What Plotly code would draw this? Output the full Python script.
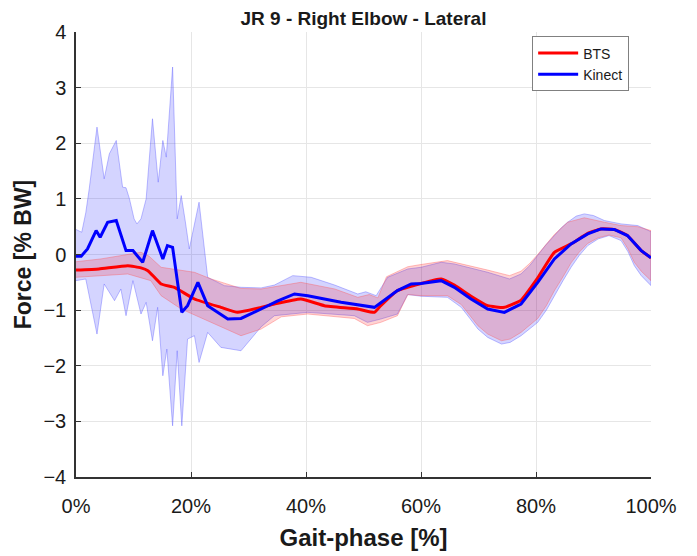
import plotly.graph_objects as go

# ---- data (gait phase %, force % BW) ----
kinect_up_x = [0, 1, 1.7, 2.3, 3.65, 4.9, 5.8, 7, 8.1, 8.7, 9.3, 10.1, 10.6, 11.3, 12.2, 13.3, 14.3, 15.1, 15.7, 16.8,
               17.6, 18.3, 19.0, 19.7, 21.4, 22.9, 25.8, 28.7, 32.2, 34.5, 37.7, 40.9, 45, 49, 50.4, 52.2, 54.2, 57.7,
               60, 63.5, 65.8, 68.5, 71.6, 75.4, 77.4, 78.9, 80.3, 81.7, 83.2, 84.4, 85.5, 87, 88.4, 90, 91.9, 93.5,
               94.8, 97.7, 100]
kinect_up_y = [0.45, 0.40, 0.75, 1.18, 2.29, 1.36, 1.81, 2.05, 1.21, 1.2, 1.0, 0.64, 0.55, 0.64, 1.0, 2.44, 1.3, 2.05, 1.75, 3.37,
               0.64, 1.06, 0.6, 0.1, 0.94, -0.41, -0.56, -0.59, -0.6, -0.55, -0.38, -0.41, -0.55, -0.71, -0.67, -0.74, -0.41, -0.26,
               -0.23, -0.14, -0.17, -0.24, -0.32, -0.44, -0.35, -0.2, -0.02, 0.17, 0.34, 0.48, 0.58, 0.69, 0.73, 0.7, 0.61, 0.58,
               0.55, 0.52, 0.41]

kinect_lo_x = [0, 1.7, 3.65, 4.9, 6.7, 7.8, 8.7, 9.9, 11.3, 12.2, 13.3, 14.2, 15.1, 15.8, 16.8, 17.6, 18.4, 19.4, 20.6,
               21.4, 22.9, 25.2, 28.7, 32.2, 34.5, 40.3, 48.4, 50.7, 53, 55.9, 57.7, 60, 64.6, 67, 68.5, 69.9, 71.6, 74,
               75.5, 77.4, 80.3, 81.8, 83.2, 84.7, 86.1, 87.5, 89, 90.8, 92.7, 94.8, 96, 97.1, 98.3, 100]
kinect_lo_y = [-0.47, -0.44, -1.43, -0.53, -0.83, -0.62, -1.1, -0.47, -1.07, -0.86, -1.55, -0.95, -2.18, -1.7, -3.08, -1.73, -3.08, -1.52, -1.46,
               -1.94, -1.4, -1.67, -1.73, -1.3, -1.1, -1.04, -1.1, -1.22, -1.16, -1.07, -0.72, -0.75, -0.77, -0.95, -1.15, -1.34, -1.49, -1.61,
               -1.58, -1.46, -1.22, -1.0, -0.74, -0.47, -0.23, -0.02, 0.16, 0.28, 0.34, 0.25, 0.05, -0.2, -0.38, -0.56]

kinect_x = [0, 0.9, 2, 3.5, 4.2, 5.5, 7, 8.7, 9.9, 11.6, 13.3, 15.1, 15.9, 16.8, 18.4, 19.4, 21.2, 22.9, 26.4, 28.7, 32.2,
            35, 38, 40.3, 46.1, 51.9, 53.9, 55.9, 58.3, 60, 63.5, 65.8, 68.7, 71.6, 74.5, 77.4, 80.3, 83.2, 86.1, 89, 91.3,
            93.6, 95.9, 98.3, 100]
kinect_y = [-0.03, -0.03, 0.1, 0.43, 0.31, 0.58, 0.61, 0.07, 0.07, -0.14, 0.43, -0.08, 0.16, 0.13, -1.04, -0.92, -0.5, -0.92, -1.16, -1.15, -0.98,
            -0.84, -0.71, -0.74, -0.86, -0.95, -0.8, -0.65, -0.53, -0.52, -0.47, -0.59, -0.8, -0.98, -1.04, -0.89, -0.5, -0.08, 0.19, 0.37, 0.46,
            0.45, 0.34, 0.07, -0.06]

bts_x = [0, 4, 9, 11.3, 12.5, 14.8, 17.1, 20.6, 25.2, 28.1, 32.2, 34.5, 39.1, 43.2, 49, 51.9, 53, 55.9, 60, 63.5, 65.8,
         68.7, 71.6, 74.5, 77.4, 80.3, 83.2, 86.1, 89, 91.3, 93.6, 95.9, 98.3, 100]
bts_y = [-0.28, -0.26, -0.2, -0.24, -0.29, -0.53, -0.59, -0.8, -0.95, -1.04, -0.95, -0.89, -0.8, -0.92, -0.98, -1.04, -0.92, -0.65, -0.52, -0.44, -0.55,
         -0.75, -0.92, -0.95, -0.82, -0.42, 0.04, 0.19, 0.38, 0.46, 0.45, 0.34, 0.07, -0.06]

bts_up_x = [0, 4.3, 11.3, 12.7, 14.8, 20.6, 23.5, 28.7, 32.2, 36, 39.1, 45, 49, 51, 52.5, 54, 57.7, 60, 64.6, 71.6, 75.4,
            77.4, 78.9, 80.3, 81.7, 83.2, 85.5, 88.4, 91.9, 94.8, 97.7, 100]
bts_up_y = [-0.13, -0.08, 0.04, -0.03, -0.23, -0.32, -0.44, -0.61, -0.62, -0.55, -0.5, -0.62, -0.77, -0.72, -0.78, -0.4, -0.22, -0.18, -0.11, -0.28, -0.38,
            -0.3, -0.16, 0.0, 0.18, 0.36, 0.58, 0.66, 0.58, 0.52, 0.5, 0.43]

bts_lo_x = [0, 9, 13, 14.8, 18.3, 23.5, 28.7, 32.2, 35.7, 40.3, 48.4, 50.7, 53, 55.9, 57.7, 60, 64.6, 67, 68.5, 69.9, 71.6, 74,
            75.5, 77.4, 80.3, 81.8, 83.2, 84.7, 86.1, 87.5, 89, 90.8, 92.7, 94.8, 96, 97.1, 98.3, 100]
bts_lo_y = [-0.41, -0.35, -0.47, -0.74, -0.98, -1.22, -1.46, -1.34, -1.12, -1.07, -1.15, -1.28, -1.22, -1.1, -0.72, -0.74, -0.74, -0.9, -1.1, -1.28, -1.43, -1.55,
            -1.52, -1.4, -1.15, -0.92, -0.65, -0.4, -0.15, 0.04, 0.2, 0.3, 0.35, 0.3, 0.1, -0.14, -0.3, -0.47]

x_ticks = [0, 20, 40, 60, 80, 100]
x_labels = ["0%", "20%", "40%", "60%", "80%", "100%"]
y_ticks = [-4, -3, -2, -1, 0, 1, 2, 3, 4]

FONT = "Liberation Sans, Arial, sans-serif"
TXT = "#1a1a1a"

fig = go.Figure()

# Kinect band
fig.add_trace(go.Scatter(
    x=kinect_up_x + kinect_lo_x[::-1], y=kinect_up_y + kinect_lo_y[::-1],
    fill="toself", fillcolor="rgba(0,0,255,0.17)", mode="lines",
    line=dict(color="rgba(90,90,255,0.4)", width=1), showlegend=False, hoverinfo="skip"))
# BTS band
fig.add_trace(go.Scatter(
    x=bts_up_x + bts_lo_x[::-1], y=bts_up_y + bts_lo_y[::-1],
    fill="toself", fillcolor="rgba(255,0,0,0.17)", mode="lines",
    line=dict(color="rgba(255,90,90,0.4)", width=1), showlegend=False, hoverinfo="skip"))

fig.add_trace(go.Scatter(x=bts_x, y=bts_y, mode="lines", name="BTS",
                         line=dict(color="#ff0000", width=3, shape="spline", smoothing=0.4)))
fig.add_trace(go.Scatter(x=kinect_x, y=kinect_y, mode="lines", name="Kinect",
                         line=dict(color="#0000ff", width=3)))

fig.update_layout(
    width=697, height=556,
    margin=dict(l=68, r=54, t=24, b=87),
    paper_bgcolor="white", plot_bgcolor="white",
    font=dict(family=FONT, color=TXT),
    title=dict(text="<b>JR 9 - Right Elbow - Lateral</b>", x=0.5, xref="paper", xanchor="center",
               y=0.981, yref="container", yanchor="middle", font=dict(size=19, family=FONT, color=TXT)),
    legend=dict(x=0.962, y=0.99, xanchor="right", yanchor="top",
                bordercolor="#808080", borderwidth=1, bgcolor="white",
                font=dict(size=14, family=FONT, color=TXT),
                tracegroupgap=0, itemwidth=40),
    xaxis=dict(range=[0, 100], tickvals=x_ticks, ticktext=x_labels, automargin=False,
               showgrid=True, gridcolor="#e6e6e6", gridwidth=1, zeroline=False,
               showline=True, linecolor="#333", linewidth=1.5, ticks="inside", ticklen=5,
               tickcolor="#333", tickfont=dict(size=20, family=FONT, color=TXT), ticklabelstandoff=10,
               title=dict(text="<b>Gait-phase [%]</b>", font=dict(size=24, family=FONT, color=TXT), standoff=13)),
    yaxis=dict(range=[-4, 4], tickvals=y_ticks, automargin=False,
               showgrid=True, gridcolor="#e6e6e6", gridwidth=1, zeroline=False,
               showline=True, linecolor="#333", linewidth=1.5, ticks="inside", ticklen=5,
               tickcolor="#333", tickfont=dict(size=20, family=FONT, color=TXT), ticklabelstandoff=4,
               title=dict(text="<b>Force [% BW]</b>", font=dict(size=23, family=FONT, color=TXT), standoff=5)),
)

fig.write_html("out.html")
